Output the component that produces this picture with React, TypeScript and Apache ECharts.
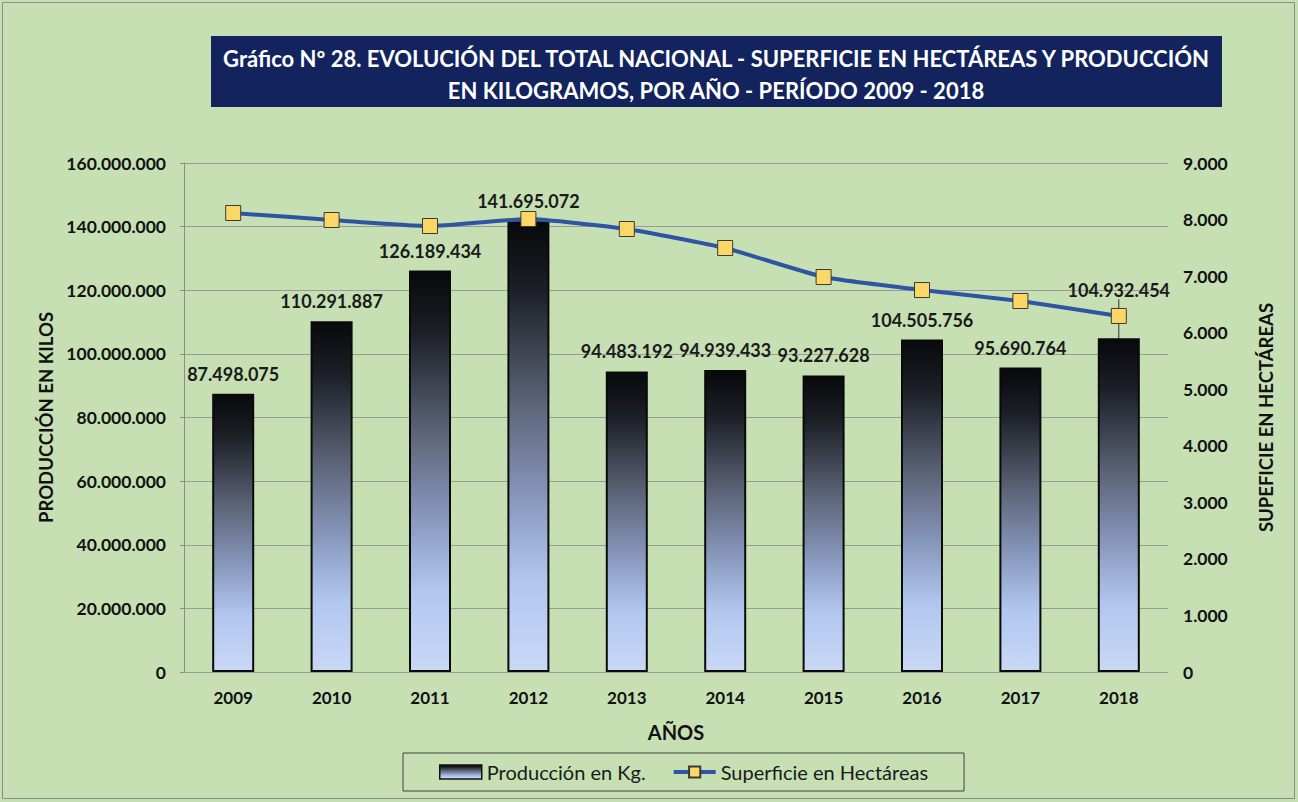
import React, { useEffect, useRef } from "react";
import * as echarts from "echarts";

const years = ["2009", "2010", "2011", "2012", "2013", "2014", "2015", "2016", "2017", "2018"];
const produccion = [87498075, 110291887, 126189434, 141695072, 94483192, 94939433, 93227628, 104505756, 95690764, 104932454];
const superficie = [8116, 7992, 7886, 8010, 7833, 7497, 6984, 6754, 6560, 6295];
const titleLines = [
  "Gráfico Nº 28. EVOLUCIÓN DEL TOTAL NACIONAL - SUPERFICIE EN HECTÁREAS Y PRODUCCIÓN",
  "EN KILOGRAMOS, POR AÑO - PERÍODO 2009 - 2018",
];

const fmt = (v: number) => String(Math.round(v)).replace(/\B(?=(\d{3})+(?!\d))/g, ".");
const FONT = "Lato, Carlito, 'Open Sans', sans-serif";

export default function App() {
  const ref = useRef<HTMLDivElement>(null);
  useEffect(() => {
    const chart = echarts.init(ref.current!, null, { renderer: "svg" });
    const barGrad = new echarts.graphic.LinearGradient(0, 0, 0, 1, [
      { offset: 0, color: "#08090c" },
      { offset: 0.15, color: "#1c1f26" },
      { offset: 0.4, color: "#5b6376" },
      { offset: 0.6, color: "#8494b8" },
      { offset: 0.8, color: "#b2c7ef" },
      { offset: 1, color: "#c8d8f6" },
    ]);
    const barData = produccion.map((v, i) =>
      i === produccion.length - 1
        ? { value: v, labelLine: { show: true, lineStyle: { color: "#333", width: 1 } } }
        : v
    );
    chart.setOption({
      animation: false,
      backgroundColor: "#c6e0b4",
      textStyle: { fontFamily: FONT },
      graphic: [
        { type: "rect", shape: { x: 2.5, y: 2.5, width: 1292, height: 796 }, style: { fill: "none", stroke: "#8c8c8c", lineWidth: 1 } },
        { type: "rect", shape: { x: 211, y: 36, width: 1011, height: 71 }, style: { fill: "#12235e" } },
        { type: "text", x: 716, y: 58, style: { text: titleLines[0], fill: "#ffffff", font: `bold 22px ${FONT}`, textAlign: "center", textVerticalAlign: "middle" } },
        { type: "text", x: 716, y: 90, style: { text: titleLines[1], fill: "#ffffff", font: `bold 22px ${FONT}`, textAlign: "center", textVerticalAlign: "middle" } },
      ],
      grid: { left: 184, right: 130, top: 163, bottom: 130 },
      legend: {
        left: 403,
        top: 753,
        padding: [9, 36],
        itemGap: 26,
        itemWidth: 42,
        itemHeight: 14,
        borderColor: "#404040",
        borderWidth: 1,
        textStyle: { fontSize: 20, color: "#1a1a1a", fontFamily: FONT },
        data: [
          { name: "Producción en Kg.", icon: "rect", itemStyle: { borderColor: "#111", borderWidth: 1.5 } },
          { name: "Superficie en Hectáreas", lineStyle: { width: 4, color: "#2e54a3" } },
        ],
      },
      xAxis: {
        type: "category",
        data: years,
        axisLine: { show: false },
        axisTick: { show: false },
        axisLabel: { fontWeight: "bold", fontSize: 17, color: "#111", margin: 17 },
        name: "AÑOS",
        nameLocation: "middle",
        nameGap: 50,
        nameTextStyle: { fontWeight: "bold", fontSize: 20, color: "#111" },
      },
      yAxis: [
        {
          type: "value",
          min: 0,
          max: 160000000,
          interval: 20000000,
          axisLine: { show: true, lineStyle: { color: "#8c8c8c" } },
          axisTick: { show: true, length: 4, lineStyle: { color: "#8c8c8c" } },
          splitLine: { lineStyle: { color: "#9a9a9a", width: 1 } },
          axisLabel: { fontWeight: "bold", fontSize: 17.5, color: "#111", formatter: (v: number) => fmt(v), margin: 18 },
          name: "PRODUCCIÓN EN KILOS",
          nameLocation: "middle",
          nameGap: 123,
          nameRotate: 90,
          nameTextStyle: { fontWeight: "bold", fontSize: 18.5, color: "#111" },
        },
        {
          type: "value",
          min: 0,
          max: 9000,
          interval: 1000,
          axisLine: { show: false },
          axisTick: { show: false },
          splitLine: { show: false },
          axisLabel: { fontWeight: "bold", fontSize: 17.5, color: "#111", formatter: (v: number) => fmt(v), margin: 15 },
          name: "SUPEFICIE EN HECTÁREAS",
          nameLocation: "middle",
          nameGap: 88,
          nameRotate: 90,
          nameTextStyle: { fontWeight: "bold", fontSize: 18.5, color: "#111" },
        },
      ],
      series: [
        {
          name: "Producción en Kg.",
          type: "bar",
          data: barData,
          barWidth: 42,
          itemStyle: { color: barGrad, borderColor: "#0a0a0a", borderWidth: 2 },
          label: {
            show: true,
            position: "top",
            distance: 11,
            fontWeight: "bold",
            fontSize: 18,
            color: "#1a1a1a",
            formatter: (p: any) => fmt(p.value),
          },
          labelLayout: (p: any) => (p.dataIndex === 9 ? { dy: -28 } : {}),
          labelLine: { show: false },
        },
        {
          name: "Superficie en Hectáreas",
          type: "line",
          yAxisIndex: 1,
          data: superficie,
          smooth: 0.15,
          symbol: "rect",
          symbolSize: 15,
          lineStyle: { color: "#2e54a3", width: 4 },
          itemStyle: { color: "#fdd766", borderColor: "#3a3a3a", borderWidth: 1 },
          z: 5,
        },
      ],
    });
    return () => chart.dispose();
  }, []);
  return <div ref={ref} style={{ position: "absolute", left: 0, top: 0, width: 1298, height: 802 }} />;
}
